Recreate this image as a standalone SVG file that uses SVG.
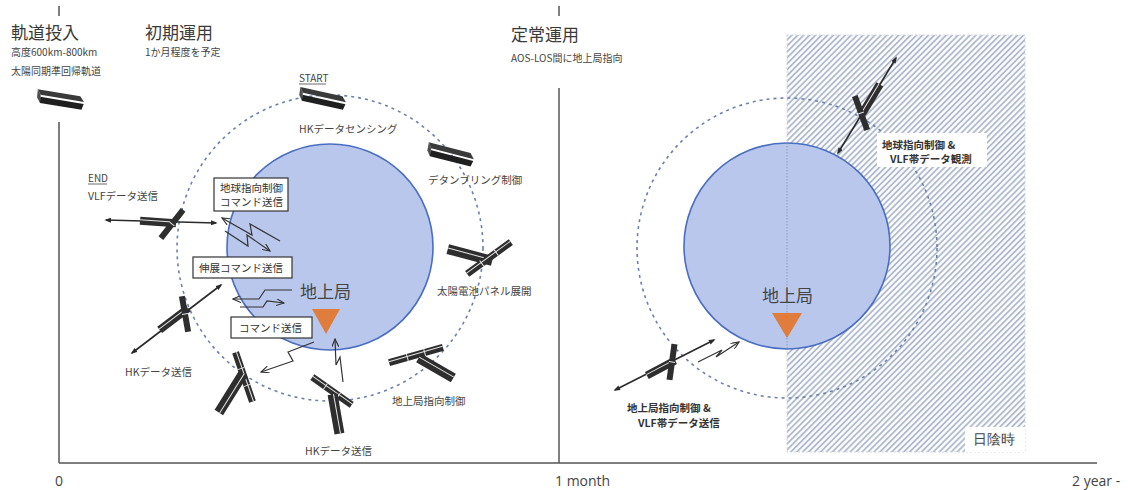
<svg xmlns="http://www.w3.org/2000/svg" width="1128" height="490" viewBox="0 0 1128 490">
<defs>
<style>
.h{font-family:"Noto Sans CJK JP","Noto Sans",sans-serif;font-size:17px;fill:#3a3a3a}
.s{font-family:"Noto Sans CJK JP","Noto Sans",sans-serif;font-size:10px;fill:#444}
.l{font-family:"Noto Sans CJK JP","Noto Sans",sans-serif;font-size:10.5px;fill:#444}
.b{font-family:"Noto Sans CJK JP","Noto Sans",sans-serif;font-size:10.5px;font-weight:bold;fill:#333}
.t{font-family:"Noto Sans CJK JP","Noto Sans",sans-serif;font-size:10.5px;fill:#333}
.gl{font-family:"Noto Sans CJK JP","Noto Sans",sans-serif;font-size:17px;fill:#444}
.ax{font-family:"Open Sans","Noto Sans",sans-serif;font-size:14px;fill:#444}
.orb{fill:none;stroke:#6d80ad;stroke-width:1.6;stroke-dasharray:3 4}
.earth{fill:#b9c7ec;stroke:#4a6ec0;stroke-width:1.6}
.gs{fill:#e07d3c}
.box{fill:#fff;stroke:#333;stroke-width:1.2}
.dk{fill:#2e2e2e}
.hl{stroke:#e6e6e6;stroke-width:1}
.ant{stroke:#2a2a2a;stroke-width:1.6;marker-start:url(#tip);marker-end:url(#tip)}
.bolt{fill:none;stroke:#333;stroke-width:1.2;marker-end:url(#open)}
.axis{stroke:#555;stroke-width:1.5;fill:none}
</style>
<marker id="tip" viewBox="0 0 8 6" refX="6" refY="3" markerWidth="7" markerHeight="5" markerUnits="userSpaceOnUse" orient="auto-start-reverse"><path d="M0,0 L8,3 L0,6 z" fill="#2a2a2a"/></marker>
<marker id="open" viewBox="0 0 10 8" refX="9" refY="4" markerWidth="9" markerHeight="7" markerUnits="userSpaceOnUse" orient="auto"><path d="M0,0 L9,4 L0,8" fill="none" stroke="#333" stroke-width="1.3"/></marker>
<pattern id="hatch" width="4.2" height="4.2" patternUnits="userSpaceOnUse" patternTransform="rotate(45)"><rect width="4.2" height="4.2" fill="#fff"/><line x1="1" y1="0" x2="1" y2="4.2" stroke="#a9b4ca" stroke-width="1.7"/></pattern>
<!-- stowed satellite body: a dark box seen from above -->
<g id="bar">
<polygon points="-24,-6 19,-8 24,-3 -20,-1" fill="#3a3a3a"/>
<polygon points="-20,1 24,-1 23,5 -19,7" fill="#1f1f1f"/>
<polygon points="-24,-6 -20,-1 -19,7 -23,2" fill="#4d4d4d"/>
</g>
</defs>

<rect width="1128" height="490" fill="#fff"/>

<!-- eclipse region -->
<g id="eclipse">
<rect x="787" y="35" width="238" height="417" fill="url(#hatch)" stroke="#d0d5de" stroke-width="1" stroke-dasharray="2 2"/>
<rect x="965" y="427" width="60" height="25" fill="#fff"/>
<text class="ax" x="973" y="444">日陰時</text>
</g>

<!-- timeline frame -->
<g id="timeline">
<line class="axis" x1="59" y1="6" x2="59" y2="16"/>
<line class="axis" x1="59" y1="122" x2="59" y2="463"/>
<line class="axis" x1="559" y1="6" x2="559" y2="16"/>
<line class="axis" x1="559" y1="88" x2="559" y2="463"/>
<line class="axis" x1="59" y1="463" x2="1097" y2="463"/>
<text class="ax" x="55" y="486">0</text>
<text class="ax" x="555" y="486">1 month</text>
<text class="ax" x="1072" y="486">2 year -</text>
</g>

<!-- phase headings -->
<g id="phase-insertion">
<text class="h" x="11" y="39">軌道投入</text>
<text class="s" x="11" y="56">高度600km-800km</text>
<text class="s" x="11" y="75">太陽同期準回帰軌道</text>
</g>
<g id="phase-initial">
<text class="h" x="145" y="39">初期運用</text>
<text class="s" x="145" y="56">1か月程度を予定</text>
</g>
<g id="phase-nominal">
<text class="h" x="511" y="41">定常運用</text>
<text class="s" x="511" y="62">AOS-LOS間に地上局指向</text>
</g>

<!-- earth and orbits -->
<g id="earth-left">
<circle class="earth" cx="330" cy="247" r="103"/>
<circle class="orb" cx="330" cy="248" r="153"/>
<text class="gl" x="300" y="298">地上局</text>
<polygon class="gs" points="312,309 340,309 326,334"/>
</g>
<g id="earth-right">
<circle class="earth" cx="787" cy="246" r="103"/>
<line x1="787" y1="143" x2="787" y2="349" stroke="#8793ad" stroke-width="0.8" stroke-dasharray="1.5 1.5"/>
<circle class="orb" cx="787" cy="248" r="150"/>
<text class="gl" x="762" y="302">地上局</text>
<polygon class="gs" points="772,313 802,313 787,338"/>
</g>

<!-- satellites -->
<g id="sat-insertion"><use href="#bar" transform="translate(60,100) rotate(12)"/></g>

<g id="sat-start">
<use href="#bar" transform="translate(322,99) rotate(15)"/>
<text class="s" x="299" y="82">START</text>
<line x1="299" y1="84" x2="326" y2="84" stroke="#444" stroke-width="0.8"/>
<text class="l" x="299" y="133">HKデータセンシング</text>
</g>

<g id="sat-detumble">
<use href="#bar" transform="translate(450,155) rotate(17)"/>
<text class="l" x="428" y="184">デタンブリング制御</text>
</g>

<g id="sat-panel-deploy">
<g transform="translate(470,255) rotate(15)"><rect class="dk" x="-23" y="-5" width="46" height="10"/><line class="hl" x1="-23" y1="-1" x2="23" y2="-1"/></g>
<g transform="translate(489,258) rotate(-36)"><rect class="dk" x="-27" y="-3.5" width="54" height="7"/><line class="hl" x1="-9" y1="-3.5" x2="-9" y2="3.5"/><line class="hl" x1="9" y1="-3.5" x2="9" y2="3.5"/><line class="hl" x1="-27" y1="-1" x2="27" y2="-1"/></g>
<text class="l" x="437" y="295">太陽電池パネル展開</text>
</g>

<g id="sat-gs-pointing">
<g transform="translate(416,355) rotate(-16)"><rect class="dk" x="-28" y="-3.5" width="56" height="7"/><line class="hl" x1="-9" y1="-3.5" x2="-9" y2="3.5"/><line class="hl" x1="9" y1="-3.5" x2="9" y2="3.5"/><line class="hl" x1="-28" y1="-1" x2="28" y2="-1"/></g>
<g transform="translate(436,368) rotate(30)"><rect class="dk" x="-20" y="-5" width="40" height="10"/><line class="hl" x1="-20" y1="-1" x2="20" y2="-1"/></g>
<text class="l" x="392" y="405">地上局指向制御</text>
</g>

<g id="sat-hk-bottom">
<g transform="translate(332,391) rotate(35)"><rect class="dk" x="-24" y="-3.5" width="48" height="7"/><line class="hl" x1="-8" y1="-3.5" x2="-8" y2="3.5"/><line class="hl" x1="8" y1="-3.5" x2="8" y2="3.5"/><line class="hl" x1="-24" y1="-1" x2="24" y2="-1"/></g>
<g transform="translate(336,414) rotate(80)"><rect class="dk" x="-20" y="-5" width="40" height="10"/><line class="hl" x1="-20" y1="-1" x2="20" y2="-1"/></g>
<text class="l" x="305" y="455">HKデータ送信</text>
</g>

<g id="sat-hk-lower-left">
<g transform="translate(244,377) rotate(71)"><rect class="dk" x="-26" y="-3.5" width="52" height="7"/><line class="hl" x1="-9" y1="-3.5" x2="-9" y2="3.5"/><line class="hl" x1="9" y1="-3.5" x2="9" y2="3.5"/><line class="hl" x1="-26" y1="-1" x2="26" y2="-1"/></g>
<g transform="translate(231,393) rotate(122)"><rect class="dk" x="-23" y="-5" width="46" height="10"/><line class="hl" x1="-23" y1="-1" x2="23" y2="-1"/></g>
</g>

<g id="sat-hk-left">
<line class="ant" x1="132" y1="353" x2="221" y2="285"/>
<g transform="translate(174,319) rotate(-37)"><rect class="dk" x="-18" y="-4" width="36" height="8"/><line class="hl" x1="-18" y1="-1" x2="18" y2="-1"/></g>
<g transform="translate(185,314) rotate(80)"><rect class="dk" x="-18" y="-3" width="36" height="6"/><line class="hl" x1="0" y1="-3" x2="0" y2="3"/></g>
<text class="l" x="125" y="376">HKデータ送信</text>
</g>

<g id="sat-end">
<line class="ant" x1="106" y1="220" x2="216" y2="223"/>
<g transform="translate(158,222) rotate(4)"><rect class="dk" x="-18" y="-4" width="36" height="8"/><line class="hl" x1="-18" y1="-1" x2="18" y2="-1"/></g>
<g transform="translate(172,224) rotate(-52)"><rect class="dk" x="-18" y="-3" width="36" height="6"/><line class="hl" x1="0" y1="-3" x2="0" y2="3"/></g>
<text class="s" x="88" y="182">END</text>
<line x1="88" y1="184" x2="107" y2="184" stroke="#444" stroke-width="0.8"/>
<text class="l" x="88" y="200">VLFデータ送信</text>
</g>

<g id="sat-earth-pointing">
<rect x="877" y="133" width="110" height="34" fill="#fff"/>
<line class="ant" x1="838" y1="153" x2="896" y2="58"/>
<g transform="translate(871,99) rotate(-59)"><rect class="dk" x="-17" y="-4" width="34" height="8"/><line class="hl" x1="-17" y1="-1" x2="17" y2="-1"/></g>
<g transform="translate(861,113) rotate(70)"><rect class="dk" x="-18" y="-3" width="36" height="6"/><line class="hl" x1="0" y1="-3" x2="0" y2="3"/></g>
<text class="b" x="882" y="149">地球指向制御 &amp;</text>
<text class="b" x="890" y="163">VLF帯データ観測</text>
</g>

<g id="sat-downlink">
<line class="ant" x1="615" y1="390" x2="714" y2="340"/>
<g transform="translate(661,368) rotate(-28)"><rect class="dk" x="-16" y="-4" width="32" height="8"/><line class="hl" x1="-16" y1="-1" x2="16" y2="-1"/></g>
<g transform="translate(672,362) rotate(98)"><rect class="dk" x="-18" y="-3" width="36" height="6"/><line class="hl" x1="0" y1="-3" x2="0" y2="3"/></g>
<text class="b" x="627" y="412">地上局指向制御 &amp;</text>
<text class="b" x="638" y="427">VLF帯データ送信</text>
</g>

<!-- command labels -->
<g id="cmd-earth-pointing">
<rect class="box" x="214" y="178" width="74" height="33"/>
<text class="t" x="220" y="192">地球指向制御</text>
<text class="t" x="220" y="206">コマンド送信</text>
</g>
<g id="cmd-deploy">
<rect class="box" x="193" y="257" width="99" height="21"/>
<text class="t" x="199" y="272">伸展コマンド送信</text>
</g>
<g id="cmd-send">
<rect class="box" x="231" y="317" width="81" height="21"/>
<text class="t" x="239" y="332">コマンド送信</text>
</g>

<!-- radio links -->
<g id="links">
<polyline class="bolt" points="280,241 250,224 252,235 222,218"/>
<polyline class="bolt" points="225,231 248,246 247,235 270,251"/>
<polyline class="bolt" points="292,290 265,290 259,299 233,299"/>
<polyline class="bolt" points="240,307 263,307 267,301 284,303"/>
<polyline class="bolt" points="314,342 288,352 293,361 261,372"/>
<polyline class="bolt" points="343,382 340,357 336,365 335,339"/>
<polyline class="bolt" points="698,362 722,350 716,357 739,342"/>
</g>
</svg>
